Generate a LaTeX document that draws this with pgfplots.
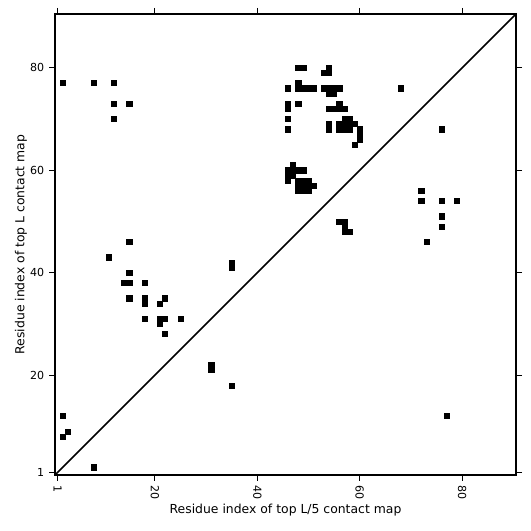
\documentclass[border=0pt]{standalone}
\usepackage{fontspec}
\setmainfont{DejaVu Sans}
\usepackage{pgfplots}
\pgfplotsset{compat=1.18}
\begin{document}
\begin{tikzpicture}
\begin{axis}[
 name=ax,
 scale only axis, width=345.75pt, height=345.75pt,
 xmin=0.5, xmax=90.5, ymin=0.5, ymax=90.5,
 xtick={1,20,40,60,80}, ytick={1,20,40,60,80},
 tick align=outside, major tick length=4.5pt,
 axis line style={line width=1.2pt},
 tick style={line width=0.8pt, black},
 /pgf/number format/assume math mode=true,
 ticklabel style={font=\fontsize{8.3}{10}\selectfont},
 xticklabel style={rotate=-90, anchor=west},
 label style={font=\fontsize{9.3}{11}\selectfont},
 xlabel={Residue index of top L/5 contact map},
 ylabel={Residue index of top L contact map},
 xlabel style={at={([yshift=-26.25pt]axis description cs:0.5,0)}, anchor=center},
 ylabel style={at={([xshift=-25.5pt]axis description cs:0,0.5)}, anchor=center},
]
\addplot[only marks, mark=square*, mark size=1.92pt, mark options={draw=none, fill=black}] coordinates {
(2,77) (8,77) (12,77) (12,73) (15,73) (12,70)
(2,12) (3,9) (2,8) (8,2)
(15,46) (11,43) (15,40) (14,38) (15,38) (18,38) (15,35) (18,35) (18,34)
(22,35) (21,34) (18,31) (21,31) (22,31) (21,30) (25,31) (22,28)
(31,22) (31,21) (35,18) (35,42) (35,41)
(54,80) (48,80) (49,80) (53,79) (54,79) (48,77)
(46,76) (48,76) (49,76) (50,76) (51,76) (53,76) (54,76) (55,76) (56,76)
(54,75) (55,75)
(46,73) (48,73) (56,73)
(46,72) (54,72) (55,72) (56,72) (57,72)
(46,70) (57,70) (58,70)
(54,69) (56,69) (57,69) (58,69) (59,69)
(46,68) (54,68) (56,68) (57,68) (58,68) (60,68)
(60,67) (60,66) (59,65)
(68,76) (76,68)
(47,61) (46,60) (47,60) (48,60) (49,60) (46,59) (47,59)
(46,58) (48,58) (49,58) (50,58)
(48,57) (49,57) (50,57) (51,57)
(48,56) (49,56) (50,56)
(56,50) (57,50) (57,49) (57,48) (58,48)
(72,56) (72,54) (76,54) (79,54) (76,51) (76,49) (73,46) (77,12)
};
\addplot[black, line width=1.2pt] coordinates {(0.5,0.5) (90.5,90.5)};
\end{axis}
\path[use as bounding box] ([shift={(-41.25pt,-42pt)}]ax.south west) rectangle ([shift={(11.25pt,10.5pt)}]ax.north east);
\end{tikzpicture}
\end{document}
